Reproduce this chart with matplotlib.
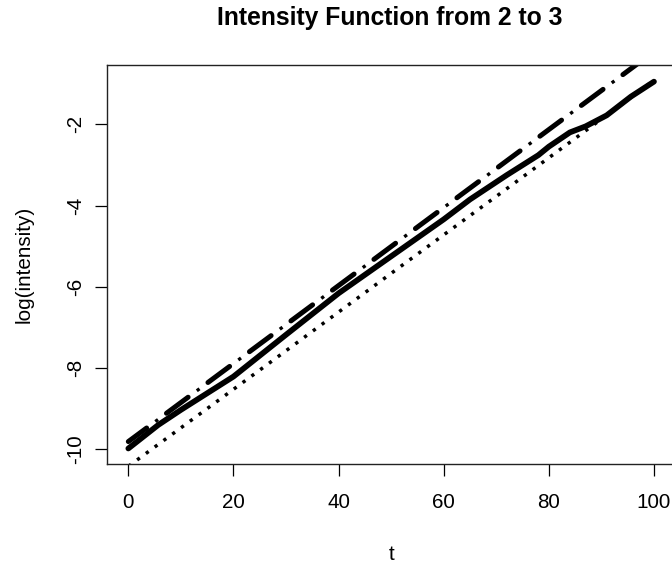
import matplotlib
matplotlib.use("Agg")
import matplotlib.pyplot as plt

plt.rcParams['font.family'] = ['Liberation Sans', 'DejaVu Sans']
plt.rcParams['lines.scale_dashes'] = False

# ---- data ----
t_est = [0, 5.7, 10, 20, 30, 40, 50, 60, 65, 72, 78, 80, 84, 87, 91, 95.6, 100]
log_est = [-9.98, -9.40, -9.03, -8.21, -7.18, -6.16, -5.25, -4.34, -3.85, -3.25,
           -2.76, -2.55, -2.20, -2.05, -1.78, -1.32, -0.95]

t_band = [0, 25, 50, 75, 100]
log_upper = [-9.81, -7.41, -5.01, -2.61, -0.21]
log_lower = [-10.42, -8.05, -5.67, -3.30, -0.92]

x_ticks = [0, 20, 40, 60, 80, 100]
y_ticks = [-10, -8, -6, -4, -2]

title = "Intensity Function from 2 to 3"
xlabel = "t"
ylabel = "log(intensity)"

# ---- figure ----
W, H = 672, 565
fig = plt.figure(figsize=(W / 100, H / 100), dpi=100)
left_px, right_px, top_px, bot_px = 107.3, 675.0, 65.5, 464.0
ax = fig.add_axes([left_px / W, 1 - bot_px / H,
                   (right_px - left_px) / W, (bot_px - top_px) / H])

ax.set_xlim(-4, 104)
ax.set_ylim(-10.362, -0.553)

# lower band: dotted
ax.plot(t_band, log_lower, color='black', lw=2.5,
        linestyle=(0, (2.4, 5.45)), dash_capstyle='butt')
# upper band: thick dashes with small dots between
ax.plot(t_band, log_upper, color='black', lw=2.4,
        linestyle=(13.0, (2.4, 34.8)), dash_capstyle='butt')
ax.plot(t_band, log_upper, color='black', lw=3.6,
        linestyle=(3.0, (19.4, 17.8)), dash_capstyle='round')
# estimate: thick solid
ax.plot(t_est, log_est, color='black', lw=4.1,
        solid_capstyle='round', solid_joinstyle='round')

for s in ax.spines.values():
    s.set_color('#222222')
    s.set_linewidth(1.0)

ax.set_xticks(x_ticks)
ax.set_yticks(y_ticks)
ax.set_xticklabels([str(v) for v in x_ticks])
ax.set_yticklabels([str(v) for v in y_ticks], rotation=90, va='center')
ax.tick_params(axis='both', direction='out', length=8.6, width=0.9,
               colors='black', labelsize=14.9)
ax.tick_params(axis='x', pad=12.2)
ax.tick_params(axis='y', pad=7.6)

ax.set_xlabel(xlabel, fontsize=14.9)
ax.set_ylabel(ylabel, fontsize=14.9)
ax.xaxis.set_label_coords(0.5, -(544.9 - bot_px) / (bot_px - top_px))
ax.yaxis.set_label_coords(-(left_px - 33.3) / (right_px - left_px), 0.5)

fig.text(389.5 / W, 1 - 25 / H, title, ha='center', va='baseline',
         fontsize=17.85, fontweight='bold')

fig.savefig("out.png", dpi=100)
